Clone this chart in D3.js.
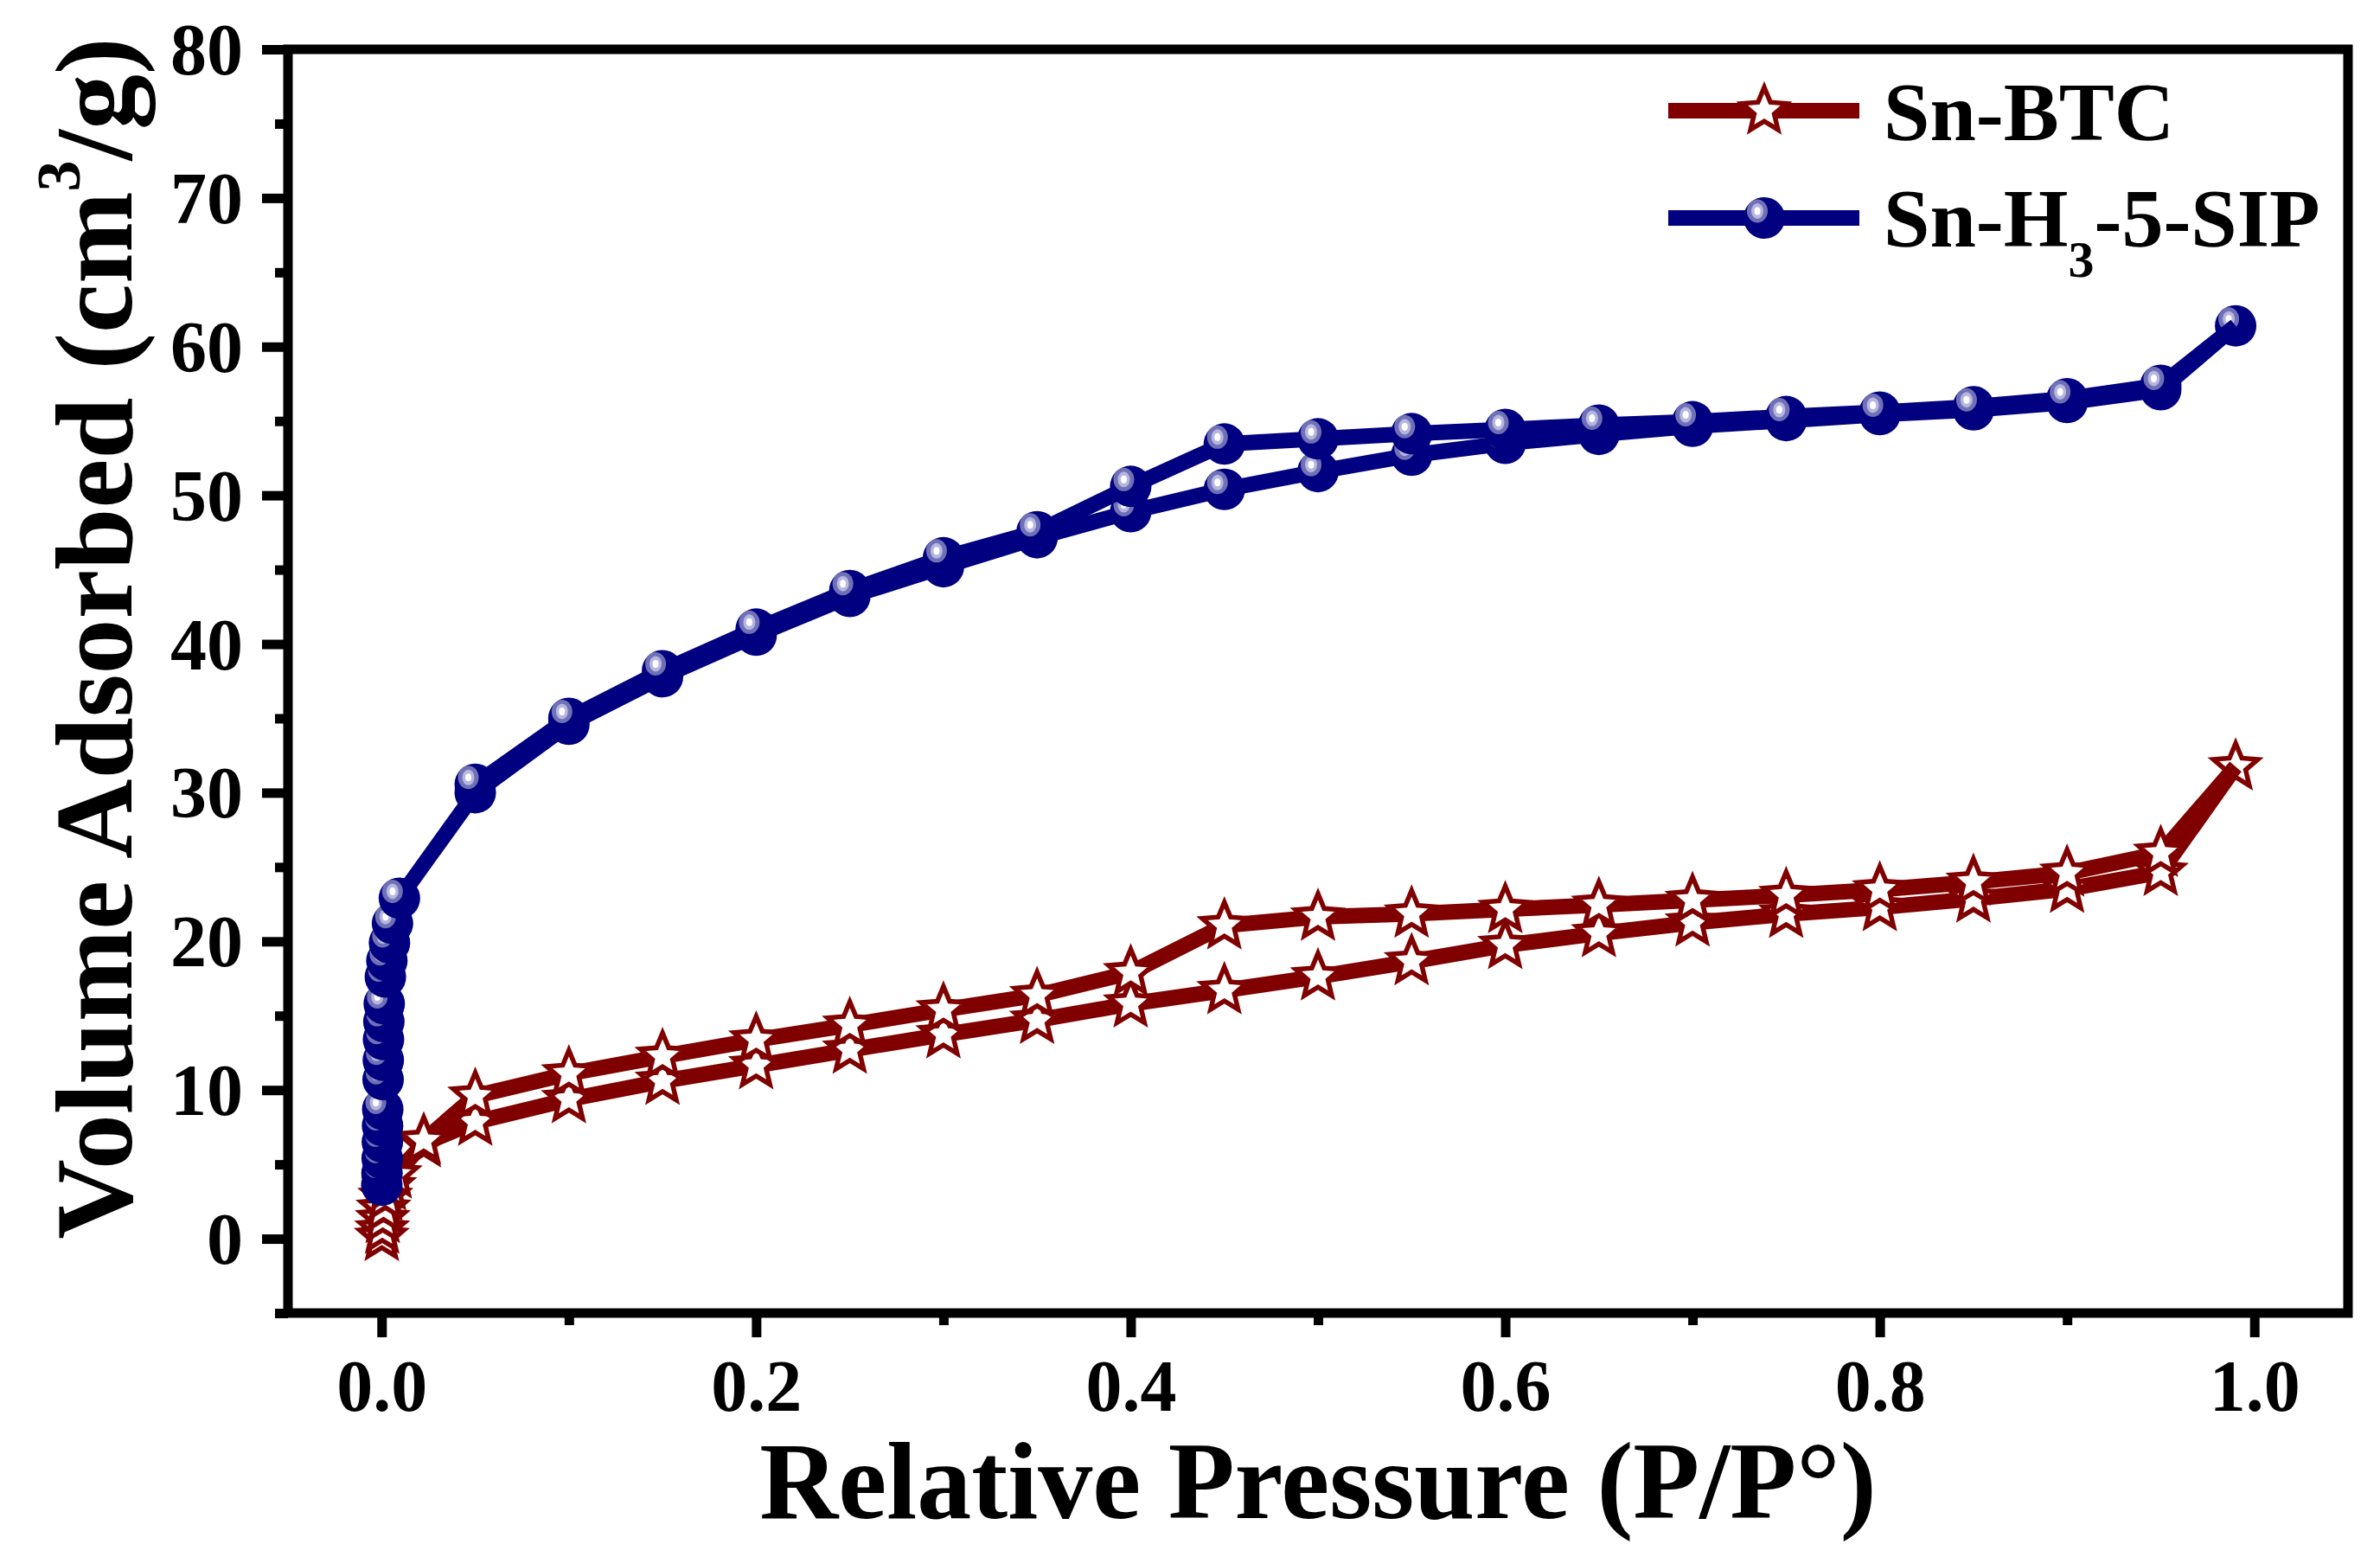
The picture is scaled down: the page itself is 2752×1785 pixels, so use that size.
<!DOCTYPE html>
<html>
<head>
<meta charset="utf-8">
<script src="https://cdn.jsdelivr.net/npm/d3@7"></script>
<style>
  html, body { margin: 0; padding: 0; background: #fff; }
  svg text { font-family: "Liberation Serif", "Times New Roman", serif; font-weight: bold; fill: #000; }
</style>
</head>
<body>
<div id="chart"></div>
<script>
// Sn-BTC : adsorption branch
const btcAdsP = [0.0001, 0.0003, 0.0006, 0.001, 0.002, 0.004, 0.007, 0.0225, 0.05, 0.1, 0.15, 0.2, 0.25, 0.3, 0.35, 0.4, 0.45, 0.5, 0.55, 0.6, 0.65, 0.7, 0.75, 0.8, 0.85, 0.9, 0.95, 0.99];
const btcAdsV = [0.1, 0.6, 1.3, 2.0, 2.8, 3.5, 4.3, 6.4, 7.85, 9.37, 10.6, 11.65, 12.7, 13.73, 14.7, 15.8, 16.7, 17.63, 18.65, 19.74, 20.53, 21.25, 21.83, 22.28, 22.86, 23.52, 24.65, 31.75];
// Sn-BTC : desorption branch
const btcDesP = [0.95, 0.9, 0.85, 0.8, 0.75, 0.7, 0.65, 0.6, 0.55, 0.5, 0.45, 0.4, 0.35, 0.3, 0.25, 0.2, 0.15, 0.1, 0.05, 0.0225];
const btcDesV = [25.93, 24.6, 23.99, 23.48, 23.1, 22.77, 22.44, 22.15, 21.85, 21.64, 21.06, 17.9, 16.37, 15.4, 14.37, 13.38, 12.27, 11.1, 9.6, 6.6];

// Sn-H3-5-SIP : adsorption branch
const sipAdsP = [0.0001, 0.0002, 0.0003, 0.0004, 0.0005, 0.0006, 0.0008, 0.0009, 0.001, 0.0012, 0.0014, 0.002, 0.0028, 0.0042, 0.0058, 0.0095, 0.05, 0.1, 0.15, 0.2, 0.25, 0.3, 0.35, 0.4, 0.45, 0.5, 0.55, 0.6, 0.65, 0.7, 0.75, 0.8, 0.85, 0.9, 0.95, 0.99];
const sipAdsV = [3.6, 4.4, 5.4, 6.5, 7.6, 8.7, 10.7, 12.0, 13.4, 14.6, 15.8, 17.6, 18.7, 19.9, 21.2, 22.9, 30.0, 34.6, 37.8, 40.6, 43.2, 45.2, 47.15, 48.9, 50.4, 51.6, 52.7, 53.5, 54.1, 54.65, 55.03, 55.43, 55.75, 56.25, 57.1, 61.4];
// Sn-H3-5-SIP : desorption branch
const sipDesP = [0.95, 0.9, 0.85, 0.8, 0.75, 0.7, 0.65, 0.6, 0.55, 0.5, 0.45, 0.4, 0.35, 0.3, 0.25, 0.2, 0.15, 0.1, 0.05];
const sipDesV = [57.4, 56.5, 55.96, 55.6, 55.3, 54.95, 54.72, 54.43, 54.15, 53.8, 53.45, 50.6, 47.55, 45.8, 43.6, 41.0, 38.2, 35.0, 30.56];

// ticks
const xMajor = [0, 0.2, 0.4, 0.6, 0.8, 1.0];
const xMinor = [0.1, 0.3, 0.5, 0.7, 0.9];
const yMajor = [0, 10, 20, 30, 40, 50, 60, 70, 80];
const yMinor = [-5, 5, 15, 25, 35, 45, 55, 65, 75];

const seriesNames = ["Sn-BTC", "Sn-H", "3", "-5-SIP"];
const red = "#800000";
const navy = "#000080";

const zip = (ps, vs) => ps.map((p, i) => ({p: p, v: vs[i]}));

const width = 2752;
const height = 1785;
const margin = {top: 57, right: 37, bottom: 267, left: 333};

const x = d3.scaleLinear()
    .domain([-0.05, 1.05])
    .range([margin.left, width - margin.right]);
const y = d3.scaleLinear()
    .domain([-5, 80])
    .range([height - margin.bottom, margin.top]);

const svg = d3.select("#chart")
    .append("svg")
    .attr("width", width)
    .attr("height", height);

// star symbol (5 points, fat arms like Origin's)
const star = {
    draw(ctx, size) {
        const R = Math.sqrt(size), r = R * 0.45;
        for (let i = 0; i < 10; i++) {
            const a = -Math.PI / 2 + i * Math.PI / 5;
            const rr = i % 2 ? r : R;
            if (i === 0) ctx.moveTo(rr * Math.cos(a), rr * Math.sin(a));
            else ctx.lineTo(rr * Math.cos(a), rr * Math.sin(a));
        }
        ctx.closePath();
    }
};
const starPath = d3.symbol(star, 27 * 27)();

const line = d3.line().x(d => x(d.p)).y(d => y(d.v));

function drawLine(g, pts, color) {
    g.append("path")
        .datum(pts)
        .attr("fill", "none")
        .attr("stroke", color)
        .attr("stroke-width", 18)
        .attr("stroke-linejoin", "round")
        .attr("d", line);
}

function drawStars(g, pts) {
    g.selectAll(null).data(pts).join("path")
        .attr("transform", d => `translate(${x(d.p)},${y(d.v)})`)
        .attr("d", starPath)
        .attr("fill", "#fff")
        .attr("stroke", red)
        .attr("stroke-width", 5.5);
}

function ball(sel) {
    sel.append("circle").attr("r", 24).attr("fill", navy);
    sel.append("ellipse").attr("cx", -8).attr("cy", -8).attr("rx", 12).attr("ry", 13.5).attr("fill", "#7070b6");
    sel.append("ellipse").attr("cx", -8).attr("cy", -8).attr("rx", 7).attr("ry", 9).attr("fill", "#b6b6e2");
    sel.append("ellipse").attr("cx", -8).attr("cy", -8).attr("rx", 3.5).attr("ry", 4.5).attr("fill", "#fff");
}

function drawBalls(g, pts) {
    g.selectAll(null).data(pts).join("g")
        .attr("transform", d => `translate(${x(d.p)},${y(d.v)})`)
        .call(ball);
}

// Sn-BTC (drawn first, under the blue)
const btcAds = zip(btcAdsP, btcAdsV);
const btcDes = zip(btcDesP, btcDesV);
const gBtc = svg.append("g");
drawLine(gBtc, btcAds, red);
drawStars(gBtc.append("g"), btcAds);
drawLine(gBtc, [btcAds[btcAds.length - 1]].concat(btcDes), red);
drawStars(gBtc.append("g"), btcDes);

// Sn-H3-5-SIP
const sipAds = zip(sipAdsP, sipAdsV);
const sipDes = zip(sipDesP, sipDesV);
const gSip = svg.append("g");
drawLine(gSip, sipAds, navy);
drawBalls(gSip.append("g"), sipAds);
drawLine(gSip, [sipAds[sipAds.length - 1]].concat(sipDes), navy);
drawBalls(gSip.append("g"), sipDes);

// frame
svg.append("rect")
    .attr("x", margin.left)
    .attr("y", margin.top)
    .attr("width", width - margin.left - margin.right)
    .attr("height", height - margin.top - margin.bottom)
    .attr("fill", "none")
    .attr("stroke", "#000")
    .attr("stroke-width", 11);

// axes
function styleAxis(g) {
    g.select(".domain").remove();
    g.selectAll("line").attr("stroke", "#000").attr("stroke-width", 11);
    g.selectAll("text").attr("font-size", 84);
}

const xb = height - margin.bottom;
svg.append("g")
    .attr("transform", `translate(0,${xb})`)
    .call(d3.axisBottom(x).tickValues(xMinor).tickSize(14).tickFormat(""))
    .call(styleAxis);
svg.append("g")
    .attr("transform", `translate(0,${xb})`)
    .call(d3.axisBottom(x).tickValues(xMajor).tickSize(28).tickFormat(d3.format(".1f")))
    .call(styleAxis)
    .call(g => g.selectAll("text").attr("y", 113).attr("dy", null));

svg.append("g")
    .attr("transform", `translate(${margin.left},0)`)
    .call(d3.axisLeft(y).tickValues(yMinor).tickSize(15).tickFormat(""))
    .call(styleAxis);
svg.append("g")
    .attr("transform", `translate(${margin.left},0)`)
    .call(d3.axisLeft(y).tickValues(yMajor).tickSize(30))
    .call(styleAxis)
    .call(g => g.selectAll("text").attr("x", -52).attr("dy", "0.34em"));

// axis titles
svg.append("text")
    .attr("x", (margin.left + width - margin.right) / 2)
    .attr("y", 1755)
    .attr("text-anchor", "middle")
    .attr("font-size", 126)
    .text("Relative Pressure (P/P°)");

const yt = svg.append("text")
    .attr("transform", "translate(152,738) rotate(-90)")
    .attr("text-anchor", "middle")
    .attr("font-size", 128);
yt.append("tspan").text("Volume Adsorbed (cm");
yt.append("tspan").attr("font-size", 72).attr("dy", -60).text("3");
yt.append("tspan").attr("dy", 60).text("/g)");

// legend
const lg = svg.append("g");
lg.append("line").attr("x1", 1929).attr("x2", 2150).attr("y1", 128).attr("y2", 128)
    .attr("stroke", red).attr("stroke-width", 18);
lg.append("path").attr("transform", "translate(2040,128)").attr("d", starPath)
    .attr("fill", "#fff").attr("stroke", red).attr("stroke-width", 5.5);
lg.append("text").attr("x", 2178).attr("y", 162).attr("font-size", 96).text(seriesNames[0]);

lg.append("line").attr("x1", 1929).attr("x2", 2150).attr("y1", 252).attr("y2", 252)
    .attr("stroke", navy).attr("stroke-width", 18);
lg.append("g").attr("transform", "translate(2040,252)").call(ball);
const t2 = lg.append("text").attr("x", 2178).attr("y", 285).attr("font-size", 96);
t2.append("tspan").text(seriesNames[1]);
t2.append("tspan").attr("font-size", 60).attr("dy", 35).text(seriesNames[2]);
t2.append("tspan").attr("dy", -35).text(seriesNames[3]);
</script>
</body>
</html>
